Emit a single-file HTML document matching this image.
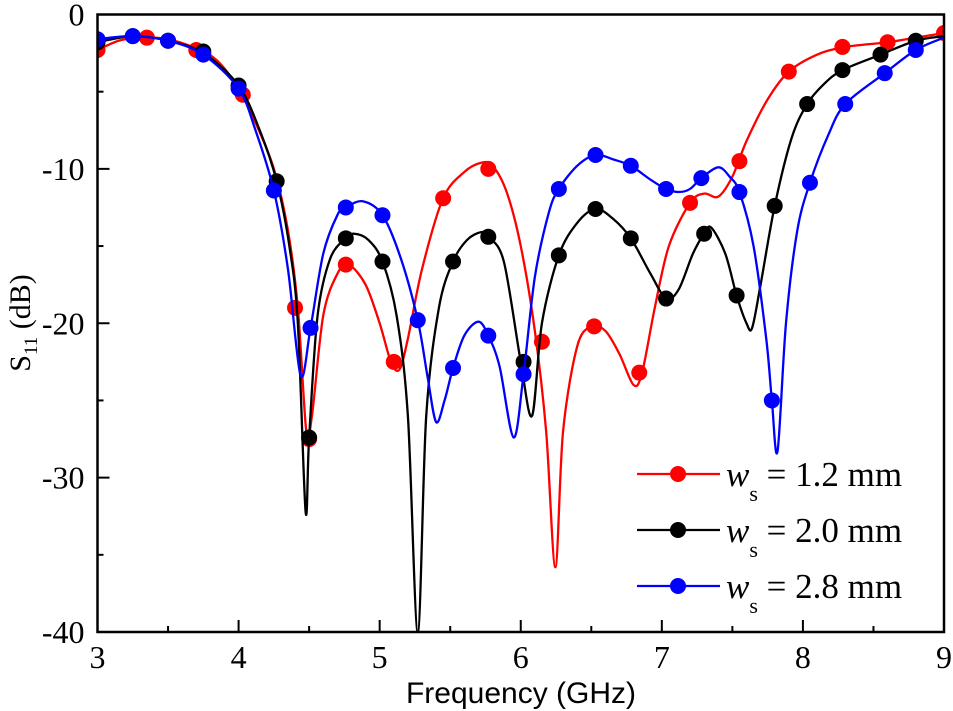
<!DOCTYPE html>
<html><head><meta charset="utf-8">
<style>
html,body{margin:0;padding:0;background:#fff;}
svg{display:block;font-family:"Liberation Serif",serif;}
</style></head>
<body>
<svg id="chart" width="953" height="711" viewBox="0 0 953 711"></svg>
<script>
// ---- data ----
const xTicks=[3,4,5,6,7,8,9];
const yTicks=[0,-10,-20,-30,-40];
const yTickLabels=["0","-10","-20","-30","-40"];
const seriesNames=["1.2 mm","2.0 mm","2.8 mm"];
const seriesColors=["#ff0000","#000000","#0000ff"];
// curve samples (GHz, dB)
const redF=[3,3.15,3.3,3.5,3.7,3.85,4.0,4.12,4.25,4.35,4.42,4.48,4.52,4.6,4.7,4.78,4.9,5.0,5.08,5.14,5.2,5.3,5.45,5.6,5.72,5.8,5.9,6.0,6.1,6.18,6.245,6.3,6.4,6.5,6.6,6.7,6.8,6.86,6.95,7.05,7.2,7.3,7.4,7.5,7.6,7.75,7.9,8.1,8.3,8.6,8.8,9];
const redS=[-2.3,-1.7,-1.5,-1.6,-2.2,-3.0,-4.8,-7,-10,-14,-19,-27,-26,-19.5,-16.8,-16.2,-17.5,-20,-22.5,-23,-21,-16.5,-11.9,-10.2,-9.6,-9.8,-11.5,-15,-20.5,-27,-35.8,-27,-21.5,-20.2,-20.5,-22,-24,-23.2,-19,-15,-12.2,-11.6,-11.8,-10.5,-8.2,-5.5,-3.7,-2.6,-2.1,-1.8,-1.5,-1.2];
const blackF=[3,3.25,3.5,3.75,4.0,4.15,4.27,4.36,4.42,4.475,4.5,4.56,4.65,4.76,4.82,4.92,5.02,5.12,5.2,5.27,5.33,5.42,5.52,5.62,5.72,5.77,5.88,6.0,6.08,6.15,6.27,6.4,6.53,6.65,6.78,6.92,7.03,7.12,7.22,7.3,7.35,7.45,7.53,7.6,7.64,7.7,7.8,7.92,8.03,8.15,8.28,8.55,8.8,9];
const blackS=[-1.8,-1.4,-1.7,-2.5,-4.6,-7.5,-10.8,-15,-20,-32.2,-27.4,-19.5,-15.8,-14.5,-14.2,-14.6,-16,-19.5,-26,-40,-26,-19,-16,-14.6,-14.1,-14.4,-16,-22.5,-26,-20,-15.6,-13.5,-12.6,-13.2,-14.5,-16.8,-18.4,-17.8,-15.5,-14.2,-13.8,-15.5,-18.2,-20,-20.3,-17.5,-12.4,-8,-5.8,-4.5,-3.6,-2.6,-1.7,-1.4];
const blueF=[3,3.25,3.5,3.75,4.0,4.12,4.25,4.35,4.44,4.51,4.6,4.7,4.76,4.88,5.02,5.15,5.27,5.34,5.4,5.46,5.52,5.6,5.7,5.77,5.85,5.95,6.02,6.1,6.2,6.27,6.4,6.53,6.66,6.78,6.92,7.03,7.12,7.2,7.28,7.4,7.48,7.55,7.65,7.74,7.78,7.82,7.88,7.96,8.05,8.18,8.3,8.58,8.8,9];
const blueS=[-1.6,-1.4,-1.7,-2.6,-4.8,-7.5,-11.4,-16.5,-23.4,-20.3,-15.5,-13,-12.5,-12.1,-13,-15.8,-19.8,-23.5,-26.4,-25,-22.9,-20.8,-19.9,-20.8,-22.8,-27.4,-23.3,-17,-12.8,-11.3,-9.8,-9.1,-9.4,-9.8,-10.7,-11.3,-11.5,-11.3,-10.6,-9.9,-10.5,-11.5,-15,-21,-25,-28.3,-20,-14,-10.9,-7.8,-5.8,-3.8,-2.3,-1.5];
// marker samples
const redMF=[3,3.35,3.7,4.03,4.4,4.5,4.76,5.1,5.45,5.77,6.15,6.52,6.84,7.2,7.55,7.9,8.28,8.6,9];
const redMS=[-2.3,-1.5,-2.3,-5.2,-19,-27.5,-16.2,-22.5,-11.9,-10,-21.2,-20.2,-23.2,-12.2,-9.5,-3.7,-2.1,-1.8,-1.2];
const blackMF=[3,3.25,3.5,3.75,4.0,4.27,4.5,4.76,5.02,5.52,5.77,6.02,6.27,6.53,6.78,7.03,7.3,7.53,7.8,8.03,8.28,8.55,8.8];
const blackMS=[-1.8,-1.4,-1.7,-2.4,-4.6,-10.8,-27.4,-14.5,-16,-16,-14.4,-22.5,-15.6,-12.6,-14.5,-18.4,-14.2,-18.2,-12.4,-5.8,-3.6,-2.6,-1.7];
const blueMF=[3,3.25,3.5,3.75,4.0,4.25,4.51,4.76,5.02,5.27,5.52,5.77,6.02,6.27,6.53,6.78,7.03,7.28,7.55,7.78,8.05,8.3,8.58,8.8];
const blueMS=[-1.6,-1.4,-1.7,-2.6,-4.8,-11.4,-20.3,-12.5,-13,-19.8,-22.9,-20.8,-23.3,-11.3,-9.1,-9.8,-11.3,-10.6,-11.5,-25,-10.9,-5.8,-3.8,-2.3];

const X0=97.5,X1=944,Y0=14.5,Y1=632;
const xs=f=>X0+(f-3)/6*(X1-X0);
const ys=d=>Y0+(0-d)/40*(Y1-Y0);
const NS="http://www.w3.org/2000/svg";
const svg=document.getElementById('chart');
function mk(tag,attrs,parent){const e=document.createElementNS(NS,tag);for(const k in attrs)e.setAttribute(k,attrs[k]);(parent||svg).appendChild(e);return e;}

const clip=mk('clipPath',{id:'pc'});mk('rect',{x:X0,y:Y0,width:X1-X0,height:Y1-Y0},clip);

function pathFrom(F,S){
  const p=F.map((f,i)=>[xs(f),ys(S[i])]);
  let d=`M${p[0][0]},${p[0][1]}`;
  for(let i=0;i<p.length-1;i++){
    const p0=p[i-1]||p[i],p1=p[i],p2=p[i+1],p3=p[i+2]||p2;
    const t=0.16;
    const c1=[p1[0]+(p2[0]-p0[0])*t,p1[1]+(p2[1]-p0[1])*t];
    const c2=[p2[0]-(p3[0]-p1[0])*t,p2[1]-(p3[1]-p1[1])*t];
    d+=` C${c1[0]},${c1[1]} ${c2[0]},${c2[1]} ${p2[0]},${p2[1]}`;
  }
  return d;
}
const curves=[[redF,redS,redMF,redMS],[blackF,blackS,blackMF,blackMS],[blueF,blueS,blueMF,blueMS]];
const curveNames=['red-curve','black-curve','blue-curve'];
curves.forEach((c,k)=>{
  const g=mk('g',{'clip-path':'url(#pc)'});
  
  
  const pth=mk('path',{d:pathFrom(c[0],c[1]),fill:'none',stroke:seriesColors[k],'stroke-width':2.3},g);
  
  
  c[2].forEach((f,i)=>{
    const m=mk('circle',{cx:xs(f),cy:ys(c[3][i]),r:8,fill:seriesColors[k]},g);
    
    
  });
});

// frame
const fr=mk('rect',{x:X0,y:Y0,width:X1-X0,height:Y1-Y0,fill:'none',stroke:'#000','stroke-width':2.5});


xTicks.forEach((t,i)=>{
  mk('line',{x1:xs(t),x2:xs(t),y1:Y1,y2:Y1-12,stroke:'#000','stroke-width':2});
  if(i<xTicks.length-1) mk('line',{x1:xs(t+0.5),x2:xs(t+0.5),y1:Y1,y2:Y1-6,stroke:'#000','stroke-width':2});
  const tx=mk('text',{x:xs(t),y:Y1+36,'text-anchor':'middle','font-size':32},svg);
  tx.textContent=t;
  
  
});
yTicks.forEach((t,i)=>{
  mk('line',{x1:X0,x2:X0+12,y1:ys(t),y2:ys(t),stroke:'#000','stroke-width':2});
  if(i<yTicks.length-1) mk('line',{x1:X0,x2:X0+6,y1:ys(t-5),y2:ys(t-5),stroke:'#000','stroke-width':2});
  const tx=mk('text',{x:X0-13,y:ys(t)+11,'text-anchor':'end','font-size':32},svg);
  tx.textContent=yTickLabels[i];
  
  
});
</script>
<svg style="position:absolute;left:0;top:0" width="953" height="711">
<text x="521" y="703" text-anchor="middle" font-size="30" font-family="Liberation Sans, sans-serif">Frequency (GHz)</text>
<text transform="translate(30,323) rotate(-90)" text-anchor="middle" font-size="30" font-family="Liberation Serif, serif">S<tspan font-size="19" dy="7">11</tspan><tspan dy="-7"> (dB)</tspan></text>
<g font-family="Liberation Serif, serif" font-size="35">
 <g>
  <line x1="637" x2="720" y1="474" y2="474" stroke="#ff0000" stroke-width="2.3"/><circle cx="678" cy="474" r="8" fill="#ff0000"/>
  <text x="726" y="486"><tspan font-style="italic">w</tspan><tspan font-size="22" dy="15">s</tspan><tspan dy="-15"> = 1.2 mm</tspan></text>
 </g>
 <g>
  <line x1="637" x2="720" y1="530" y2="530" stroke="#000" stroke-width="2.3"/><circle cx="678" cy="530" r="8" fill="#000"/>
  <text x="726" y="542"><tspan font-style="italic">w</tspan><tspan font-size="22" dy="15">s</tspan><tspan dy="-15"> = 2.0 mm</tspan></text>
 </g>
 <g>
  <line x1="637" x2="720" y1="586" y2="586" stroke="#0000ff" stroke-width="2.3"/><circle cx="678" cy="586" r="8" fill="#0000ff"/>
  <text x="726" y="598"><tspan font-style="italic">w</tspan><tspan font-size="22" dy="15">s</tspan><tspan dy="-15"> = 2.8 mm</tspan></text>
 </g>
</g>
</svg>
</body></html>
